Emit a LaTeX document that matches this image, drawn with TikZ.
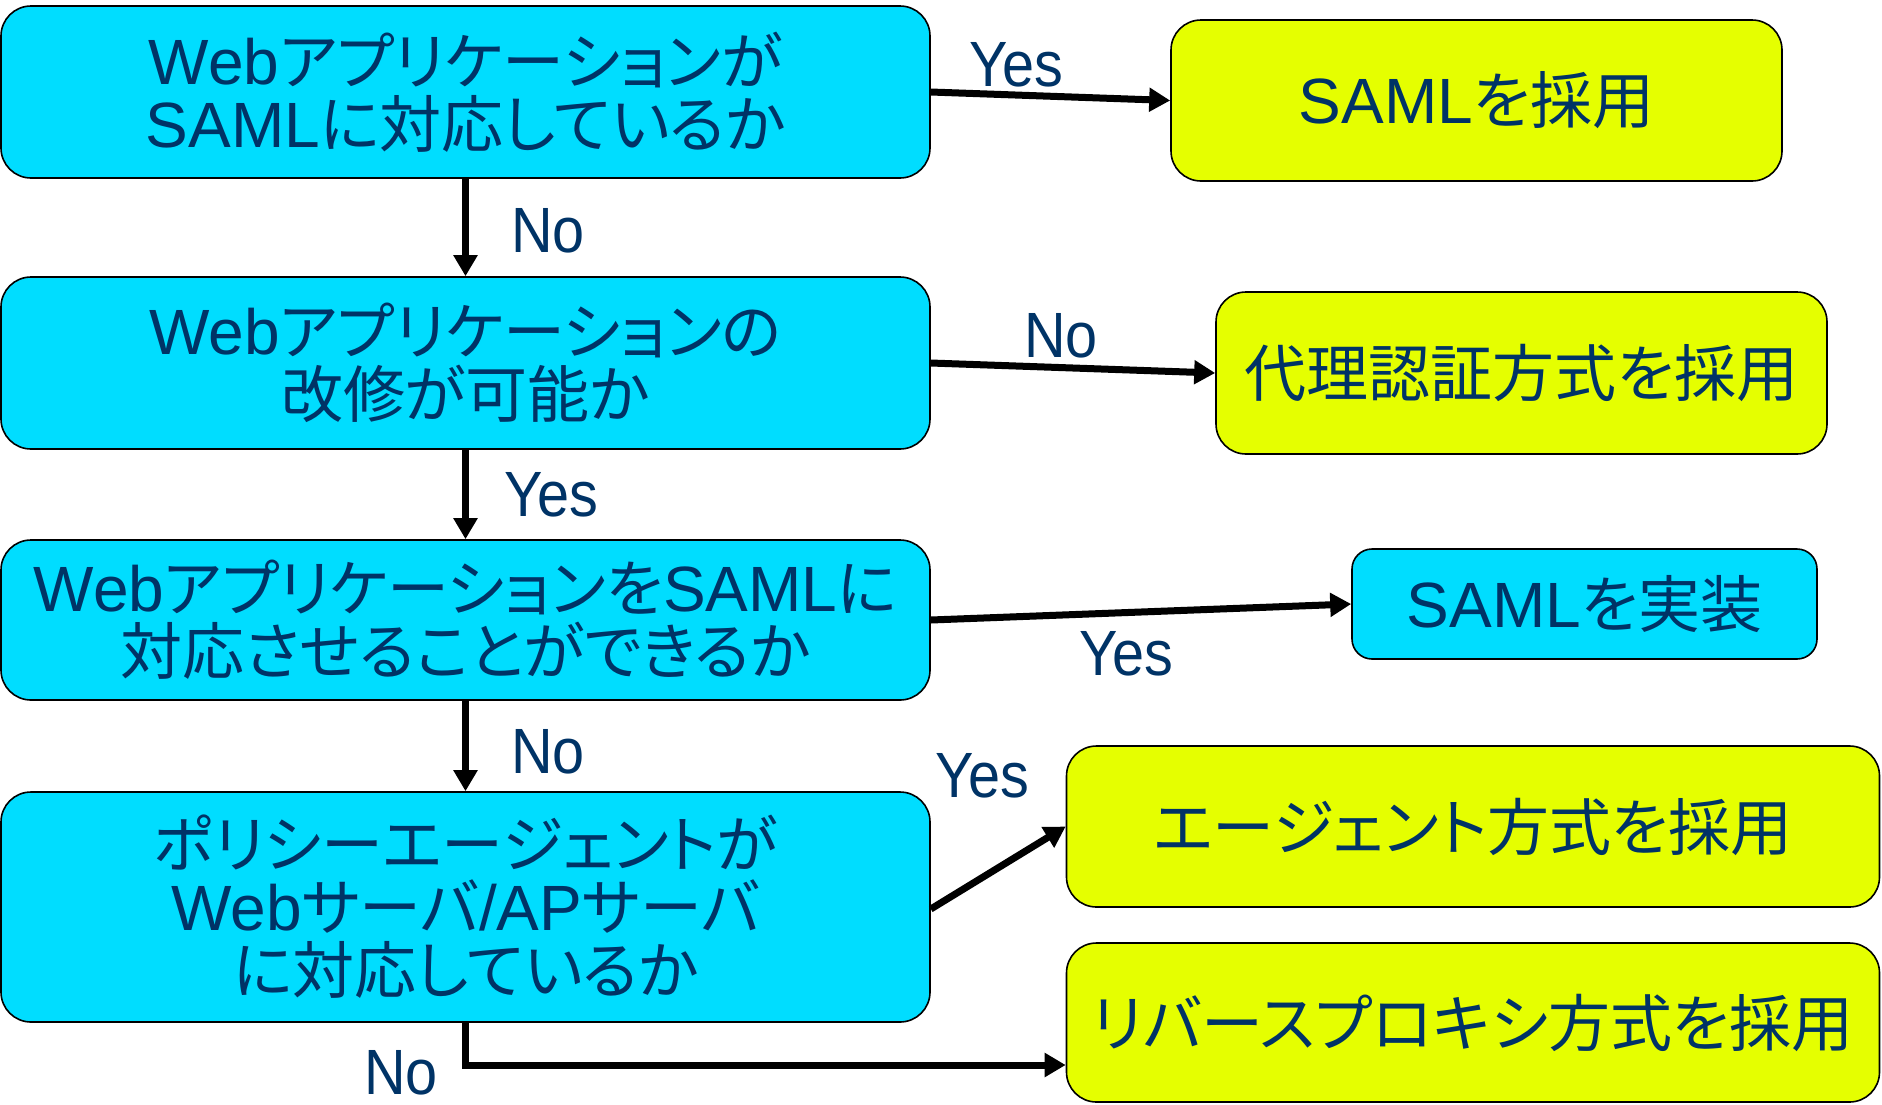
\documentclass[tikz,border=0pt]{standalone}
\usepackage{fontspec}
\setmainfont{Noto Sans CJK JP}[RawFeature=+palt]
\newfontfamily\latinf{Liberation Sans}
\newfontfamily\lblf{Liberation Sans}[FakeStretch=0.9]
\usetikzlibrary{arrows.meta}
\definecolor{boxcyan}{RGB}{0,221,255}
\definecolor{boxyellow}{RGB}{229,255,0}
\definecolor{navytext}{RGB}{0,51,102}
\newcommand{\LatR}[1]{{\latinf\fontsize{64}{64}\selectfont #1}}
\tikzset{
  box/.style={draw=black, line width=1.6pt, rounded corners=30pt, inner sep=0pt,
    align=center, text=navytext, font=\fontsize{62}{63}\selectfont},
  qbox/.style={box, fill=boxcyan, minimum width=929pt},
  ybox/.style={box, fill=boxyellow},
  flowarrow/.style={line width=7pt, -{Triangle[length=21pt,width=23pt]}},
  lbl/.style={text=navytext, inner sep=0pt, anchor=base, text depth=0pt,
    font=\lblf\fontsize{64}{64}\selectfont}
}
\begin{document}
\begin{tikzpicture}[x=1pt,y=-1pt]
\useasboundingbox (0,0) rectangle (1882,1104);
% decision boxes
\node[qbox, minimum height=172pt] (b1) at (465.5,92) {\LatR{Web}アプリケーションが\\\LatR{SAML}に対応しているか};
\node[qbox, minimum height=172pt] (b2) at (465.5,363) {\LatR{Web}アプリケーションの\\改修が可能か};
\node[qbox, minimum height=160pt] (b3) at (465.5,620) {\LatR{Web}アプリケーションを\LatR{SAML}に\\対応させることができるか};
\node[qbox, minimum height=230pt] (b4) at (465.5,907) {ポリシーエージェントが\\\LatR{Web}サーバ\LatR{/AP}サーバ\\に対応しているか};
% result boxes
\node[ybox, minimum width=611pt, minimum height=161pt] (r1) at (1476.5,100.5) {\LatR{SAML}を採用};
\node[ybox, minimum width=611pt, minimum height=162pt] (r2) at (1521.5,373) {代理認証方式を採用};
\node[box, fill=boxcyan, rounded corners=20pt, minimum width=465pt, minimum height=110pt] (r3) at (1584.5,604) {\LatR{SAML}を実装};
\node[ybox, minimum width=813pt, minimum height=161pt] (r4) at (1473,826.5) {エージェント方式を採用};
\node[ybox, minimum width=813pt, minimum height=159pt] (r5) at (1473,1022.5) {リバースプロキシ方式を採用};
% connectors
\draw[flowarrow] (b1.south) -- (b2.north);
\draw[flowarrow] (b2.south) -- (b3.north);
\draw[flowarrow] (b3.south) -- (b4.north);
\draw[flowarrow] (b1.east) -- (r1.west);
\draw[flowarrow] (b2.east) -- (r2.west);
\draw[flowarrow] (b3.east) -- (r3.west);
\draw[flowarrow] ([yshift=-2pt]b4.east) -- (r4.west);
\coordinate (k) at (465.5,1065);
\draw[flowarrow] (b4.south) -- (k) -- (k -| r5.west);
% labels
\node[lbl] (l1) at (548,252) {No};
\node[lbl] (l2) at (551,516) {Yes};
\node[lbl] (l3) at (548,773) {No};
\node[lbl] (l4) at (1016,86) {Yes};
\node[lbl] (l5) at (1061,357) {No};
\node[lbl] (l6) at (1126,675) {Yes};
\node[lbl] (l7) at (982,797) {Yes};
\node[lbl] (l8) at (401,1094) {No};
\end{tikzpicture}
\end{document}
